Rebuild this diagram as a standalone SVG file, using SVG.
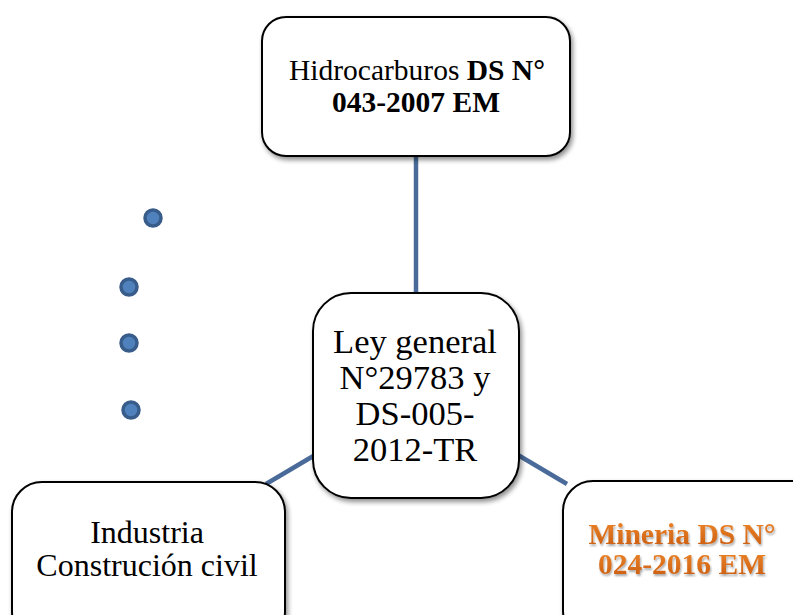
<svg xmlns="http://www.w3.org/2000/svg" width="793" height="615" viewBox="0 0 793 615">
  <defs>
    <filter id="shadow" x="-10%" y="-10%" width="130%" height="130%">
      <feGaussianBlur in="SourceAlpha" stdDeviation="2.5"/>
      <feOffset dx="2" dy="3" result="b"/>
      <feComponentTransfer><feFuncA type="linear" slope="0.45"/></feComponentTransfer>
      <feMerge><feMergeNode/><feMergeNode in="SourceGraphic"/></feMerge>
    </filter>
    <filter id="txtshadow" x="-5%" y="-5%" width="110%" height="120%">
      <feGaussianBlur in="SourceAlpha" stdDeviation="0.8"/>
      <feOffset dx="1" dy="1.5" result="b"/>
      <feComponentTransfer><feFuncA type="linear" slope="0.35"/></feComponentTransfer>
      <feMerge><feMergeNode/><feMergeNode in="SourceGraphic"/></feMerge>
    </filter>
    <linearGradient id="orange" x1="0" y1="0" x2="0" y2="1">
      <stop offset="0" stop-color="#f0882a"/>
      <stop offset="1" stop-color="#c75a10"/>
    </linearGradient>
  </defs>
  <style>
    .box { fill: #ffffff; stroke: #000000; stroke-width: 2; filter: url(#shadow); }
    .link { stroke: #4a6b9a; stroke-width: 4.5; fill: none; }
    .dot { fill: #4f81bd; stroke: #385d8a; stroke-width: 3.5; }
    .t { font-family: "Liberation Serif", "Times New Roman", serif; text-anchor: middle; fill: #000000; }
    .b { font-weight: bold; }
    .or { fill: url(#orange); }
  </style>

  <!-- connectors -->
  <g id="connectors">
    <line class="link" x1="416" y1="156" x2="416" y2="293"/>
    <line class="link" x1="315" y1="455" x2="266" y2="484"/>
    <line class="link" x1="518" y1="455" x2="567" y2="484"/>
  </g>

  <!-- bullet dots -->
  <g id="dots">
    <circle class="dot" cx="153" cy="218" r="8"/>
    <circle class="dot" cx="129" cy="287" r="8"/>
    <circle class="dot" cx="129" cy="343" r="8"/>
    <circle class="dot" cx="131" cy="410" r="8"/>
  </g>

  <g id="hidrocarburos">
    <rect class="box" x="262" y="17" width="308" height="139" rx="24"/>
    <text class="t" x="417" y="80" font-size="29.5">Hidrocarburos <tspan class="b">DS N°</tspan></text>
    <text class="t b" x="416" y="112" font-size="29.5">043-2007 EM</text>
  </g>

  <g id="ley-general">
    <rect class="box" x="313" y="293" width="206" height="205" rx="38"/>
    <text class="t" x="415" y="353" font-size="34.5">Ley general</text>
    <text class="t" x="415" y="389" font-size="34.5">N°29783 y</text>
    <text class="t" x="415" y="425" font-size="34.5">DS-005-</text>
    <text class="t" x="415" y="461" font-size="34.5">2012-TR</text>
  </g>

  <g id="industria">
    <rect class="box" x="12" y="482" width="273" height="160" rx="30"/>
    <text class="t" x="147" y="543" font-size="32">Industria</text>
    <text class="t" x="147" y="576" font-size="32">Construción civil</text>
  </g>

  <g id="mineria">
    <rect class="box" x="563" y="481" width="260" height="160" rx="30"/>
    <g filter="url(#txtshadow)">
      <text class="t b or" x="682" y="544" font-size="29.5">Mineria DS N°</text>
      <text class="t b or" x="682" y="574" font-size="29.5">024-2016 EM</text>
    </g>
  </g>
</svg>
